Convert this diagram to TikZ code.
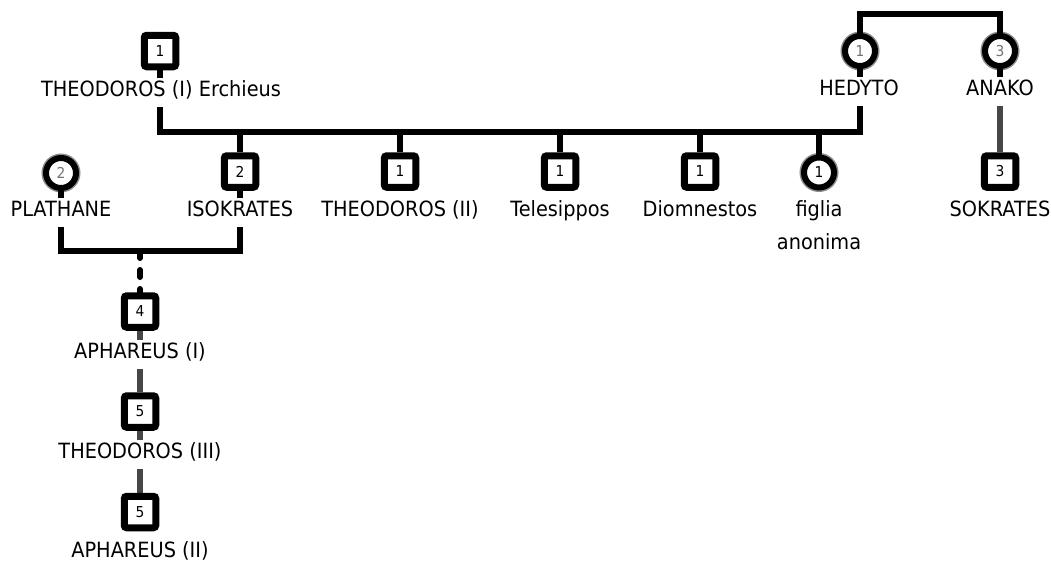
\documentclass[tikz,border=0pt]{standalone}
\usepackage{fontspec}
\setmainfont{DejaVu Sans}[FakeStretch=0.92]
\usetikzlibrary{backgrounds}
\begin{document}
\begin{tikzpicture}[x=1pt,y=-1pt,
  male/.style={draw, line width=7pt, rounded corners=2.5pt, minimum size=31.5pt,
    inner sep=0pt, fill=white, font=\fontsize{15}{15}\selectfont},
  female/.style={circle, draw, line width=6pt, minimum size=30pt, inner sep=0pt,
    fill=white, font=\fontsize{15}{15}\selectfont,
    preaction={draw=black, line width=9pt, opacity=0.45}},
  faded/.style={text=black!55},
  lbl/.style={anchor=base, inner sep=2pt, text height=15.5pt, text depth=9pt,
    font=\fontsize{21}{33}\selectfont},
  link/.style={line width=6pt, line join=miter},
  solo/.style={line width=5.5pt, draw=black!72},
  uncertain/.style={link, line cap=round, dash pattern=on 7pt off 12pt}
]
\useasboundingbox (0,0) rectangle (1051,562);

% first generation
\node[male] (theoB) at (160,51) {1};
\node[lbl] (theoL) at (161,96) {THEODOROS (I) Erchieus};
\node[female, faded] (hedB) at (860,51) {1};
\node[lbl] (hedL) at (859,95) {HEDYTO};
\node[female, faded] (anaB) at (1000,51) {3};
\node[lbl] (anaL) at (1000,95) {ANAKO};

% second generation
\node[female, faded] (plaB) at (61,173) {2};
\node[lbl] (plaL) at (61,216) {PLATHANE};
\node[male] (isoB) at (240,171.5) {2};
\node[lbl] (isoL) at (240,216) {ISOKRATES};
\node[male] (theo2B) at (400,171.5) {1};
\node[lbl] (theo2L) at (400,216) {THEODOROS (II)};
\node[male] (telB) at (560,171.5) {1};
\node[lbl] (telL) at (560,216) {Telesippos};
\node[male] (dioB) at (700,171.5) {1};
\node[lbl] (dioL) at (700,216) {Diomnestos};
\node[female] (figB) at (819,172.5) {1};
\node[anchor=north, inner sep=0pt, align=center, font=\fontsize{21}{33}\selectfont]
  (figL) at (819,200) {figlia\\anonima};
\node[male] (sokB) at (1000,171.5) {3};
\node[lbl] (sokL) at (1000,216) {SOKRATES};

% descendants of Isokrates
\node[male] (aph1B) at (140,311.5) {4};
\node[lbl] (aph1L) at (140,358) {APHAREUS (I)};
\node[male] (theo3B) at (140,411.5) {5};
\node[lbl] (theo3L) at (140,458) {THEODOROS (III)};
\node[male] (aph2B) at (140,512) {5};
\node[lbl] (aph2L) at (140,557) {APHAREUS (II)};

\coordinate (wed0) at (930,14);
\coordinate (wed1) at (510,132);
\coordinate (wed2) at (140,251);

\begin{scope}[on background layer]
  % Hedyto and Anako
  \draw[link] (hedB.north) |- (wed0) -| (anaB.north);
  % Theodoros (I) and Hedyto
  \draw[link] (theoB.south) -- (theoB.south |- theoL.north);
  \draw[link] (hedB.south) -- (hedB.south |- hedL.north);
  \draw[link] (anaB.south) -- (anaL.north);
  \draw[link] (theoB.south |- theoL.south) |- (wed1) -| (hedB.south |- hedL.south);
  \foreach \c in {isoB, theo2B, telB, dioB, figB}
    \draw[link] (wed1 -| \c) -- (\c.north);
  % Anako's son
  \draw[solo] (anaL.south) -- (sokB.north);
  % Plathane and Isokrates
  \draw[link] (plaB.south) -- (plaL.north);
  \draw[link] (isoB.south) -- (isoL.north);
  \draw[link] (plaL.south) |- (wed2) -| (isoL.south);
  \draw[uncertain] (wed2) -- (aph1B.north);
  % line of Aphareus
  \draw[solo] (aph1B.south) -- (aph1L.north);
  \draw[solo] (aph1L.south) -- (theo3B.north);
  \draw[solo] (theo3B.south) -- (theo3L.north);
  \draw[solo] (theo3L.south) -- (aph2B.north);
\end{scope}
\end{tikzpicture}
\end{document}
